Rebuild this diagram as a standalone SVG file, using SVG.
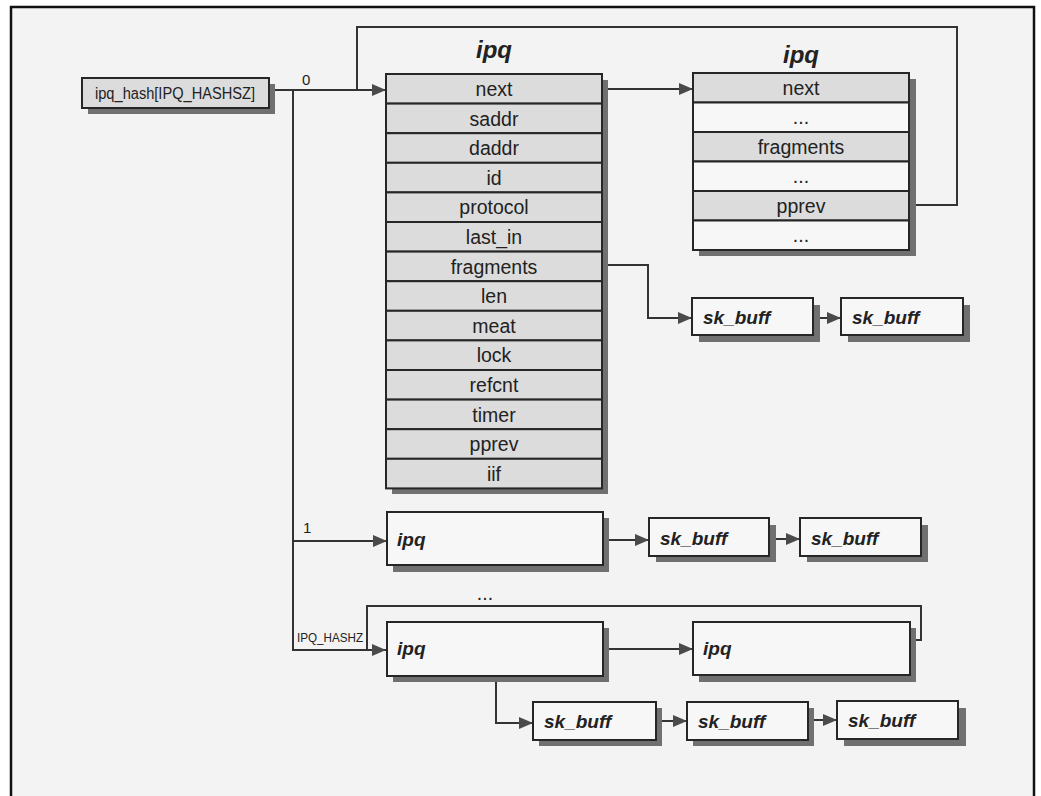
<svg xmlns="http://www.w3.org/2000/svg" width="1041" height="796" viewBox="0 0 1041 796">
<defs>
<marker id="arr" viewBox="0 0 14 12" refX="14" refY="6" markerWidth="14" markerHeight="12" markerUnits="userSpaceOnUse" orient="auto">
<path d="M0,0 L14,6 L0,12 Z" fill="#4a4a4a"/>
</marker>
</defs>
<style>
.sh{fill:#707070}
.g{fill:#dcdcdc;stroke:#262626;stroke-width:2}
.w{fill:#f7f7f7;stroke:#262626;stroke-width:2}
.t{font-family:"Liberation Sans",Arial,sans-serif;font-size:19.5px;fill:#222;text-anchor:middle}
.hs{font-family:"Liberation Sans",Arial,sans-serif;font-size:16px;fill:#222;text-anchor:middle}
.bi{font-family:"Liberation Sans",Arial,sans-serif;font-size:19px;font-weight:bold;font-style:italic;fill:#222}
.ti{font-family:"Liberation Sans",Arial,sans-serif;font-size:24px;font-weight:bold;font-style:italic;fill:#222;text-anchor:middle}
.c{fill:none;stroke:#333;stroke-width:2}
.ca{fill:none;stroke:#333;stroke-width:2;marker-end:url(#arr)}
.lb{font-family:"Liberation Sans",Arial,sans-serif;font-size:15px;fill:#222}
.lbs{font-family:"Liberation Sans",Arial,sans-serif;font-size:12px;fill:#222}
</style>
<rect x="0" y="0" width="1041" height="796" fill="#ffffff"/>
<rect x="11" y="7" width="1023" height="800" fill="#f3f3f3" stroke="#111" stroke-width="2.5"/>

<g id="connectors">
<polyline class="ca" points="275,90 386,90"/>
<polyline class="ca" points="293,90 293,650 386,650"/>
<polyline class="ca" points="293,541 387,541"/>
<polyline class="c" points="916,205 957,205 957,27 357,27 357,90"/>
<polyline class="ca" points="608,89 693,89"/>
<polyline class="ca" points="608,265 648,265 648,318 692,318"/>
<polyline class="ca" points="820,318 841,318"/>
<polyline class="ca" points="609,540 649,540"/>
<polyline class="ca" points="776,539 800,539"/>
<polyline class="c" points="916,640 921,640 921,606 367,606 367,650"/>
<polyline class="ca" points="609,649 693,649"/>
<polyline class="ca" points="496,682 496,723 533,723"/>
<polyline class="ca" points="662,721 687,721"/>
<polyline class="ca" points="813,720 837,720"/>
<text class="lb" x="302" y="85">0</text>
<text class="lb" x="303" y="533">1</text>
<text class="lbs" x="297" y="642" textLength="66" lengthAdjust="spacingAndGlyphs">IPQ_HASHZ</text>
<text class="t" x="485" y="600">...</text>
</g>

<g id="hash">
<rect class="sh" x="88" y="84" width="187" height="30"/>
<rect class="g" x="82" y="78" width="187" height="30"/>
<text class="hs" x="175" y="99" textLength="160" lengthAdjust="spacingAndGlyphs">ipq_hash[IPQ_HASHSZ]</text>
</g>

<g id="ipq0">
<text class="ti" x="494" y="58">ipq</text>
<rect class="sh" x="392" y="80" width="216" height="414"/>
<rect class="g" x="386" y="74" width="216" height="29.6"/>
<rect class="g" x="386" y="103.6" width="216" height="29.6"/>
<rect class="g" x="386" y="133.2" width="216" height="29.6"/>
<rect class="g" x="386" y="162.8" width="216" height="29.6"/>
<rect class="g" x="386" y="192.4" width="216" height="29.6"/>
<rect class="g" x="386" y="222" width="216" height="29.6"/>
<rect class="g" x="386" y="251.6" width="216" height="29.6"/>
<rect class="g" x="386" y="281.2" width="216" height="29.6"/>
<rect class="g" x="386" y="310.8" width="216" height="29.6"/>
<rect class="g" x="386" y="340.4" width="216" height="29.6"/>
<rect class="g" x="386" y="370" width="216" height="29.6"/>
<rect class="g" x="386" y="399.6" width="216" height="29.6"/>
<rect class="g" x="386" y="429.2" width="216" height="29.6"/>
<rect class="g" x="386" y="458.8" width="216" height="29.6"/>
<text class="t" x="494" y="96">next</text>
<text class="t" x="494" y="125.6">saddr</text>
<text class="t" x="494" y="155.2">daddr</text>
<text class="t" x="494" y="184.8">id</text>
<text class="t" x="494" y="214.4">protocol</text>
<text class="t" x="494" y="244">last_in</text>
<text class="t" x="494" y="273.6">fragments</text>
<text class="t" x="494" y="303.2">len</text>
<text class="t" x="494" y="332.8">meat</text>
<text class="t" x="494" y="362.4">lock</text>
<text class="t" x="494" y="392">refcnt</text>
<text class="t" x="494" y="421.6">timer</text>
<text class="t" x="494" y="451.2">pprev</text>
<text class="t" x="494" y="480.8">iif</text>
</g>

<g id="ipq_next">
<text class="ti" x="801" y="63">ipq</text>
<rect class="sh" x="699" y="79" width="217" height="177"/>
<rect class="g" x="693" y="73" width="216" height="29.5"/>
<rect class="w" x="693" y="102.5" width="216" height="29.5"/>
<rect class="g" x="693" y="132" width="216" height="29.5"/>
<rect class="w" x="693" y="161.5" width="216" height="29.5"/>
<rect class="g" x="693" y="191" width="216" height="29.5"/>
<rect class="w" x="693" y="220.5" width="216" height="29.5"/>
<text class="t" x="801" y="95">next</text>
<text class="t" x="801" y="124">...</text>
<text class="t" x="801" y="154">fragments</text>
<text class="t" x="801" y="183">...</text>
<text class="t" x="801" y="213">pprev</text>
<text class="t" x="801" y="242">...</text>
</g>

<g id="skb_a1">
<rect class="sh" x="699" y="305" width="121" height="37"/>
<rect class="w" x="692" y="298" width="121" height="37"/>
<text class="bi" x="703" y="324">sk_buff</text>
</g>
<g id="skb_a2">
<rect class="sh" x="848" y="305" width="122" height="37"/>
<rect class="w" x="841" y="298" width="122" height="37"/>
<text class="bi" x="852" y="324">sk_buff</text>
</g>

<g id="ipq1">
<rect class="sh" x="393" y="518" width="216" height="54"/>
<rect class="w" x="387" y="512" width="216" height="53"/>
<text class="bi" x="397" y="546">ipq</text>
</g>
<g id="skb_b1">
<rect class="sh" x="656" y="525" width="120" height="37"/>
<rect class="w" x="649" y="518" width="120" height="38"/>
<text class="bi" x="660" y="545">sk_buff</text>
</g>
<g id="skb_b2">
<rect class="sh" x="807" y="525" width="121" height="37"/>
<rect class="w" x="800" y="518" width="121" height="38"/>
<text class="bi" x="811" y="545">sk_buff</text>
</g>

<g id="ipq_last">
<rect class="sh" x="393" y="628" width="216" height="54"/>
<rect class="w" x="387" y="622" width="216" height="54"/>
<text class="bi" x="397" y="655">ipq</text>
</g>
<g id="ipq_last_next">
<rect class="sh" x="699" y="628" width="217" height="54"/>
<rect class="w" x="693" y="622" width="217" height="53"/>
<text class="bi" x="703" y="655">ipq</text>
</g>
<g id="skb_c1">
<rect class="sh" x="539" y="708" width="123" height="38"/>
<rect class="w" x="533" y="702" width="123" height="38"/>
<text class="bi" x="544" y="728">sk_buff</text>
</g>
<g id="skb_c2">
<rect class="sh" x="693" y="708" width="121" height="38"/>
<rect class="w" x="687" y="702" width="121" height="38"/>
<text class="bi" x="698" y="728">sk_buff</text>
</g>
<g id="skb_c3">
<rect class="sh" x="844" y="708" width="122" height="38"/>
<rect class="w" x="837" y="701" width="121" height="38"/>
<text class="bi" x="848" y="727">sk_buff</text>
</g>
</svg>
